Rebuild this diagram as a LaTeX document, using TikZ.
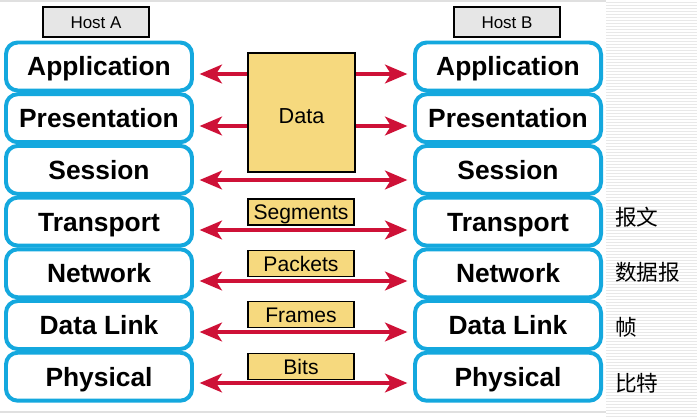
\documentclass[tikz,border=0pt]{standalone}
\usepackage{fontspec}
\setmainfont{Liberation Sans}
\newfontfamily\cjk{Noto Sans CJK SC}
\usepackage{xcolor}
\usetikzlibrary{arrows.meta}
\definecolor{osiblue}{RGB}{20,168,222}
\definecolor{pdured}{RGB}{206,17,55}
\definecolor{pduyellow}{RGB}{246,217,126}
\definecolor{hostgray}{RGB}{230,230,230}
\tikzstyle{layer} = [rectangle, draw=osiblue, line width=3.4pt, rounded corners=10pt, fill=white, minimum width=5.58cm, minimum height=1.44cm, inner sep=0pt, text height=16.1pt, text depth=0pt, font=\fontsize{22.5}{26}\selectfont\bfseries]
\tikzstyle{host} = [rectangle, draw, line width=1.2pt, fill=hostgray, minimum width=3.18cm, minimum height=0.9cm, inner sep=0pt, text height=10.4pt, text depth=0pt, font=\fontsize{14.5}{17}\selectfont]
\tikzstyle{pdu} = [rectangle, draw, line width=1.2pt, fill=pduyellow, minimum width=3.18cm, minimum height=0.78cm, inner sep=0pt, text height=12.9pt, text depth=0pt, font=\fontsize{18}{21}\selectfont]
\tikzstyle{cn} = [anchor=west, inner sep=0pt, font=\cjk\fontsize{18.5}{22}\selectfont]
\tikzstyle{line} = [draw, pdured, line width=3pt, -{Stealth[length=19pt,width=16pt,inset=5pt]}, shorten >=0.17cm]
\tikzstyle{both} = [line, {Stealth[length=19pt,width=16pt,inset=5pt]}-{Stealth[length=19pt,width=16pt,inset=5pt]}, shorten <=0.17cm]

\begin{document}
\begin{tikzpicture}[x=0.03cm, y=-0.03cm]
\useasboundingbox (0,0) rectangle (697,417);
% slide background
\foreach \yy in {2,5,...,416} \draw[black!9, line width=0.8pt] (606,\yy) -- (697,\yy);
\draw[black!12, line width=1pt] (0,1) -- (606,1);
\draw[black!12, line width=1pt] (0,412) -- (606,412);

\node [host] (host-a) at (96,22) {Host A};
\node [host] (host-b) at (507,22) {Host B};

% host A stack
\node [layer] (app-a) at (99,66.5) {Application};
\node [layer] (pre-a) at (99,118.2) {Presentation};
\node [layer] (ses-a) at (99,169.9) {Session};
\node [layer] (tra-a) at (99,221.6) {Transport};
\node [layer] (net-a) at (99,273.3) {Network};
\node [layer] (dl-a) at (99,325) {Data Link};
\node [layer] (phy-a) at (99,376.7) {Physical};

% host B stack
\node [layer] (app-b) at (508,66.5) {Application};
\node [layer] (pre-b) at (508,118.2) {Presentation};
\node [layer] (ses-b) at (508,169.9) {Session};
\node [layer] (tra-b) at (508,221.6) {Transport};
\node [layer] (net-b) at (508,273.3) {Network};
\node [layer] (dl-b) at (508,325) {Data Link};
\node [layer] (phy-b) at (508,376.7) {Physical};

% arrow levels
\coordinate (lv1) at (0,74);
\coordinate (lv2) at (0,126);
\coordinate (lv3) at (0,180);
\coordinate (lv4) at (0,230);
\coordinate (lv5) at (0,281);
\coordinate (lv6) at (0,332);
\coordinate (lv7) at (0,383);

\path [both] (ses-a.east |- lv3) -- (ses-b.west |- lv3);
\node [pdu, minimum height=3.57cm, minimum width=3.21cm, text height=13.2pt, font=\fontsize{18.5}{22}\selectfont] (data) at (301.5,112.5) {\raisebox{-3pt}{Data}};
\path [line] (data.west |- lv1) -- (app-a.east |- lv1);
\path [line] (data.east |- lv1) -- (app-b.west |- lv1);
\path [line] (data.west |- lv2) -- (pre-a.east |- lv2);
\path [line] (data.east |- lv2) -- (pre-b.west |- lv2);

\node [pdu] (seg) at (301,212) {Segments};
\node [pdu] (pkt) at (301,263.5) {Packets};
\node [pdu] (frm) at (301,314.5) {Frames};
\node [pdu] (bit) at (301,366.5) {Bits};
\path [both] (tra-a.east |- lv4) -- (tra-b.west |- lv4);
\path [both] (net-a.east |- lv5) -- (net-b.west |- lv5);
\path [both] (dl-a.east |- lv6) -- (dl-b.west |- lv6);
\path [both] (phy-a.east |- lv7) -- (phy-b.west |- lv7);

\node [cn] (tra-cn) at (615,217) {报文};
\node [cn] (net-cn) at (615,272) {数据报};
\node [cn] (dl-cn) at (615,327) {帧};
\node [cn] (phy-cn) at (615,383) {比特};
\end{tikzpicture}
\end{document}
